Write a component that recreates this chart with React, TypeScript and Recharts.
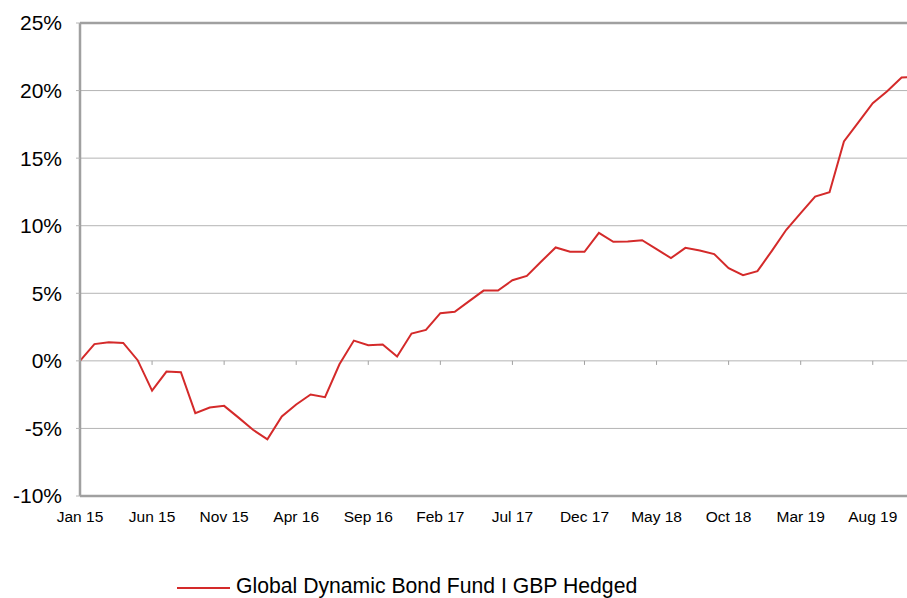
import React from "react"
import { LineChart, Line, XAxis, YAxis, CartesianGrid, ReferenceLine } from "recharts"

const months = [
  "Jan 15", "Feb 15", "Mar 15", "Apr 15", "May 15", "Jun 15", "Jul 15", "Aug 15", "Sep 15", "Oct 15", "Nov 15", "Dec 15",
  "Jan 16", "Feb 16", "Mar 16", "Apr 16", "May 16", "Jun 16", "Jul 16", "Aug 16", "Sep 16", "Oct 16", "Nov 16", "Dec 16",
  "Jan 17", "Feb 17", "Mar 17", "Apr 17", "May 17", "Jun 17", "Jul 17", "Aug 17", "Sep 17", "Oct 17", "Nov 17", "Dec 17",
  "Jan 18", "Feb 18", "Mar 18", "Apr 18", "May 18", "Jun 18", "Jul 18", "Aug 18", "Sep 18", "Oct 18", "Nov 18", "Dec 18",
  "Jan 19", "Feb 19", "Mar 19", "Apr 19", "May 19", "Jun 19", "Jul 19", "Aug 19", "Sep 19", "Oct 19", "Nov 19",
]

const fundReturn = [
  0, 1.24, 1.38, 1.33, 0.05, -2.2, -0.79, -0.84, -3.87, -3.45, -3.33, -4.2,
  -5.1, -5.8, -4.12, -3.23, -2.49, -2.69, -0.25, 1.5, 1.16, 1.21, 0.32, 2.02,
  2.29, 3.53, 3.63, 4.42, 5.2, 5.2, 5.97, 6.29, 7.35, 8.39, 8.07, 8.07,
  9.47, 8.81, 8.83, 8.93, 8.27, 7.6, 8.36, 8.17, 7.9, 6.86, 6.34, 6.64,
  8.14, 9.7, 10.93, 12.16, 12.48, 16.23, 17.64, 19.07, 19.95, 20.97, 21.0,
]

const xTicks = ["Jan 15", "Jun 15", "Nov 15", "Apr 16", "Sep 16", "Feb 17", "Jul 17", "Dec 17", "May 18", "Oct 18", "Mar 19", "Aug 19"]
const yTicks = [-10, -5, 0, 5, 10, 15, 20, 25]

const seriesName = "Global Dynamic Bond Fund I GBP Hedged"
const FONT = "'Liberation Sans', Arial, sans-serif"
const RED = "#d42a2a"

export default function App() {
  const data = months.map((m, i) => ({ month: m, value: fundReturn[i] }))

  return (
    <div style={{ position: "absolute", left: 0, top: 0, width: 907, height: 598, overflow: "hidden", background: "#fff", fontFamily: FONT }}>
      <LineChart width={920} height={598} data={data} margin={{ top: 23, right: 4, left: 0, bottom: 72 }}>
        <CartesianGrid horizontal vertical={false} stroke="#b4b4b4" strokeWidth={1} />
        <XAxis
          dataKey="month"
          interval={4}
          axisLine={{ stroke: "#a0a0a0", strokeWidth: 2.5 }}
          tickLine={false}
          tickSize={0}
          tickMargin={15}
          height={30}
          tick={{ fill: "#000", fontSize: 15.5, fontFamily: FONT }}
        />
        <YAxis
          domain={[-10, 25]}
          ticks={yTicks}
          width={80}
          interval={0}
          axisLine={{ stroke: "#a0a0a0", strokeWidth: 2.5 }}
          tickLine={{ stroke: "#b4b4b4" }}
          tickSize={4}
          tickMargin={14}
          tickFormatter={(v: number) => `${v}%`}
          tick={{ fill: "#000", fontSize: 21, fontFamily: FONT }}
        />
        <ReferenceLine y={25} stroke="#a0a0a0" strokeWidth={2.5} />
        {xTicks.map((t) => (
          <ReferenceLine key={t} segment={[{ x: t, y: 0 }, { x: t, y: -0.3 }]} stroke="#a0a0a0" />
        ))}
        <Line
          type="linear"
          dataKey="value"
          name={seriesName}
          stroke={RED}
          strokeWidth={2}
          dot={false}
          isAnimationActive={false}
        />
      </LineChart>
      <div style={{ position: "absolute", left: 177, top: 587, width: 53, height: 2, background: RED }} />
      <div style={{ position: "absolute", left: 236, top: 575, fontSize: 21.2, lineHeight: "21px", color: "#000", whiteSpace: "nowrap" }}>
        {seriesName}
      </div>
    </div>
  )
}
